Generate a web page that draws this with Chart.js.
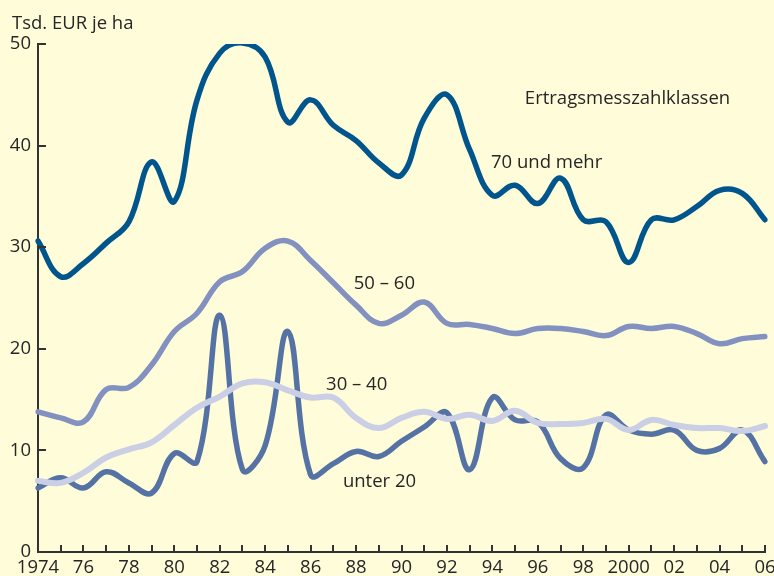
<!DOCTYPE html>
<html>
<head>
<meta charset="utf-8">
<script src="https://cdn.jsdelivr.net/npm/chart.js@4/dist/chart.umd.min.js"></script>
<style>
    html, body { margin: 0; padding: 0; background: #FFFCDA; }
    #wrap { width: 774px; height: 576px; }
</style>
</head>
<body>
<div id="wrap"><canvas id="grafik" width="774" height="576"></canvas></div>
<script>
// Jahre (Kategorien) und Achsenbeschriftung
const jahre = ['1974', '1975', '1976', '1977', '1978', '1979', '1980', '1981', '1982', '1983', '1984',
    '1985', '1986', '1987', '1988', '1989', '1990', '1991', '1992', '1993', '1994', '1995', '1996',
    '1997', '1998', '1999', '2000', '2001', '2002', '2003', '2004', '2005', '2006'];
const achsenJahre = ['1974', '76', '78', '80', '82', '84', '86', '88', '90', '92', '94', '96', '98',
    '2000', '02', '04', '06'];

// Tsd. EUR je ha nach Ertragsmesszahlklassen
const klasse70 = [30.6, 27.1, 28.4, 30.4, 32.5, 38.4, 34.5, 44.5, 49.1, 50.1, 48.7, 42.3, 44.5, 42.0,
    40.5, 38.3, 37.1, 42.7, 45.0, 39.6, 35.1, 36.1, 34.3, 36.8, 32.7, 32.5, 28.5, 32.7, 32.7, 34.0,
    35.6, 35.3, 32.7];
const klasse5060 = [13.8, 13.2, 12.8, 16.0, 16.2, 18.4, 21.7, 23.5, 26.6, 27.6, 29.9, 30.6, 28.7, 26.5,
    24.3, 22.5, 23.3, 24.6, 22.5, 22.4, 22.0, 21.5, 22.0, 22.0, 21.7, 21.3, 22.2, 22.0, 22.2, 21.5,
    20.5, 21.0, 21.2];
const klasse3040 = [7.0, 6.8, 7.8, 9.3, 10.1, 10.8, 12.5, 14.2, 15.3, 16.6, 16.7, 15.9, 15.2, 15.2,
    13.2, 12.2, 13.2, 13.8, 13.1, 13.5, 12.9, 13.9, 12.7, 12.6, 12.7, 13.1, 12.0, 13.0, 12.5, 12.2,
    12.2, 11.9, 12.4];
const unter20 = [6.3, 7.3, 6.3, 7.9, 6.8, 5.8, 9.7, 8.9, 23.3, 8.1, 10.5, 21.7, 7.6, 8.7, 9.9, 9.4,
    10.9, 12.3, 13.7, 8.1, 15.2, 13.0, 12.8, 9.2, 8.3, 13.5, 12.0, 11.6, 12.0, 10.0, 10.2, 12.0, 8.9];

const SCHRIFT = { family: '"Open Sans", sans-serif', size: 18.5 };
const TEXTFARBE = '#262626';
const ACHSENFARBE = '#333333';

// Beschriftungen an den Linien (Lage in Achseneinheiten: Kategorie-Index / Wert)
const linienTexte = [
    { text: 'Ertragsmesszahlklassen', idx: 21.43, wert: 44.1 },
    { text: '70 und mehr', idx: 19.94, wert: 37.8 },
    { text: '50 – 60', idx: 13.9, wert: 25.9 },
    { text: '30 – 40', idx: 12.68, wert: 15.9 },
    { text: 'unter 20', idx: 13.42, wert: 6.4 }
];

const zusatz = {
    id: 'zusatz',
    afterDraw(chart) {
        const { ctx, chartArea, scales: { x, y } } = chart;
        ctx.save();
        ctx.strokeStyle = ACHSENFARBE;
        ctx.lineWidth = 2;
        ctx.beginPath();
        // Teilstriche nach innen
        jahre.forEach((j, i) => {
            const px = Math.round(x.getPixelForValue(i));
            ctx.moveTo(px, chartArea.bottom);
            ctx.lineTo(px, chartArea.bottom - 7);
        });
        y.ticks.forEach(t => {
            const py = Math.round(y.getPixelForValue(t.value));
            ctx.moveTo(chartArea.left, py);
            ctx.lineTo(chartArea.left + 8, py);
        });
        ctx.stroke();

        ctx.fillStyle = TEXTFARBE;
        ctx.font = `${SCHRIFT.size}px ${SCHRIFT.family}`;
        ctx.textAlign = 'left';
        ctx.textBaseline = 'alphabetic';
        ctx.fillText('Tsd. EUR je ha', chartArea.left - 26, chartArea.top - 15);
        linienTexte.forEach(l => {
            ctx.fillText(l.text, x.getPixelForValue(l.idx), y.getPixelForValue(l.wert));
        });
        ctx.restore();
    }
};

function linie(daten, farbe, breite) {
    return {
        data: daten,
        borderColor: farbe,
        borderWidth: breite,
        pointRadius: 0,
        tension: 0.4,
        fill: false,
        borderCapStyle: 'round',
        borderJoinStyle: 'round'
    };
}

new Chart(document.getElementById('grafik'), {
    type: 'line',
    data: {
        labels: jahre,
        datasets: [
            linie(klasse70, '#00558C', 5.5),
            linie(klasse5060, '#8291C0', 5.5),
            linie(klasse3040, '#CACFE6', 6),
            linie(unter20, '#5572A5', 5.5)
        ]
    },
    options: {
        responsive: false,
        animation: false,
        devicePixelRatio: 1,
        layout: { padding: { left: 0, top: 44, right: 9, bottom: 0 } },
        plugins: { legend: { display: false }, tooltip: { enabled: false } },
        scales: {
            x: {
                type: 'category',
                offset: false,
                grid: { display: false, drawTicks: false },
                border: { display: true, color: ACHSENFARBE, width: 2 },
                ticks: {
                    autoSkip: false,
                    maxRotation: 0,
                    padding: 5,
                    color: TEXTFARBE,
                    font: SCHRIFT,
                    callback: (wert, i) => (i % 2 === 0 ? achsenJahre[i / 2] : '')
                },
                // "06" darf wie im Original bis an den Rand laufen
                afterFit: s => { s.height = 24; s.paddingRight = 0; s.paddingLeft = 0; }
            },
            y: {
                min: 0,
                max: 50,
                grid: { display: false, drawTicks: false },
                border: { display: true, color: ACHSENFARBE, width: 2 },
                ticks: { stepSize: 10, padding: 7, color: TEXTFARBE, font: SCHRIFT },
                afterFit: s => { s.width = 38; }
            }
        }
    },
    plugins: [zusatz]
});
</script>
</body>
</html>
